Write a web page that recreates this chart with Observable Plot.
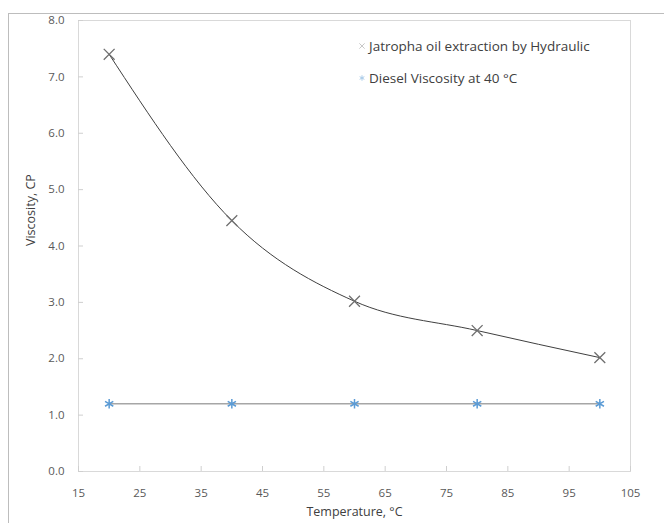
<!DOCTYPE html>
<html>
<head>
<meta charset="utf-8">
<script src="https://cdn.jsdelivr.net/npm/d3@7"></script>
<script src="https://cdn.jsdelivr.net/npm/@observablehq/plot@0.6"></script>
<style>
  html, body { margin: 0; padding: 0; background: #fff; }
  #wrap { position: relative; width: 664px; height: 523px; overflow: hidden; font-family: "Open Sans", "Liberation Sans", sans-serif; }
  #outer { position: absolute; left: 8px; top: 13px; width: 700px; height: 600px; border-left: 1px solid #bdbdbd; border-top: 1px solid #bdbdbd; pointer-events: none; }
  #legend { position: absolute; left: 358px; top: 36px; font-size: 13.5px; color: #404040; }
  #legend .row { display: flex; align-items: center; height: 19px; margin-bottom: 13px; }
  #legend svg { margin-right: 3px; }
</style>
</head>
<body>
<div id="wrap">
  <div id="chart"></div>
  <div id="outer"></div>
  <div id="legend"></div>
</div>
<script>
// Data
const temperature = [20, 40, 60, 80, 100];
const jatrophaViscosity = [7.4, 4.45, 3.02, 2.5, 2.02];
const dieselViscosity = [1.2, 1.2, 1.2, 1.2, 1.2];
const xTicks = [15, 25, 35, 45, 55, 65, 75, 85, 95, 105];
const yTicks = [0, 1, 2, 3, 4, 5, 6, 7, 8];
const seriesNames = ["Jatropha oil extraction by Hydraulic", "Diesel Viscosity at 40 °C"];
const seriesColors = ["#6f6f6f", "#5b9bd5"];

const jatropha = temperature.map((t, i) => ({t, v: jatrophaViscosity[i]}));
const diesel = temperature.map((t, i) => ({t, v: dieselViscosity[i]}));

const chart = Plot.plot({
  width: 664,
  height: 523,
  marginLeft: 78,
  marginRight: 34,
  marginTop: 20,
  marginBottom: 52,
  style: {fontFamily: "'Open Sans', 'Liberation Sans', sans-serif", fontSize: "11.5px", color: "#595959", background: "transparent"},
  x: {domain: [15, 105], label: null},
  y: {domain: [0, 8], label: null},
  marks: [
    Plot.frame({stroke: "#d9d9d9"}),
    Plot.axisX({ticks: xTicks, tickSize: 5, dy: -5, fill: "none", stroke: "#cfcfcf", label: null}),
    Plot.axisY({ticks: yTicks, tickSize: 5, dx: 5, fill: "none", stroke: "#cfcfcf", label: null}),
    Plot.axisX({ticks: xTicks, tickSize: 0, tickPadding: 17, fill: "#595959", fontSize: 11.5, label: null}),
    Plot.axisY({ticks: yTicks, tickSize: 0, tickPadding: 14, tickFormat: d3.format(".1f"), fill: "#595959", fontSize: 11.5, label: null}),
    Plot.line(jatropha, {x: "t", y: "v", curve: "monotone-x", stroke: "#404040", strokeWidth: 1}),
    Plot.line(diesel, {x: "t", y: "v", stroke: "#a6a6a6", strokeWidth: 1.5}),
    Plot.dot(jatropha, {x: "t", y: "v", symbol: "times", r: 5, stroke: seriesColors[0], strokeWidth: 1.3}),
    Plot.dot(diesel, {x: "t", y: "v", symbol: "asterisk", r: 4.5, stroke: seriesColors[1], strokeWidth: 1.5}),
    Plot.text(["Temperature, °C"], {frameAnchor: "bottom", dy: 44, fill: "#404040", fontSize: 12.5}),
    Plot.text(["Viscosity, CP"], {frameAnchor: "left", dx: -48, rotate: -90, fill: "#404040", fontSize: 12.5})
  ]
});
document.getElementById("chart").appendChild(chart);

// Legend
const legend = document.getElementById("legend");
const symbols = [d3.symbolTimes, d3.symbolAsterisk];
seriesNames.forEach((name, i) => {
  const row = document.createElement("div");
  row.className = "row";
  const s = d3.create("svg").attr("width", 8).attr("height", 8);
  s.append("path")
    .attr("transform", "translate(4,4)")
    .attr("d", d3.symbol(symbols[i], 20)())
    .attr("fill", "none")
    .attr("stroke", i === 0 ? "#c8c8c8" : "#a9cbe9")
    .attr("stroke-width", 1);
  row.appendChild(s.node());
  const span = document.createElement("span");
  span.textContent = name;
  row.appendChild(span);
  legend.appendChild(row);
});
</script>
</body>
</html>
